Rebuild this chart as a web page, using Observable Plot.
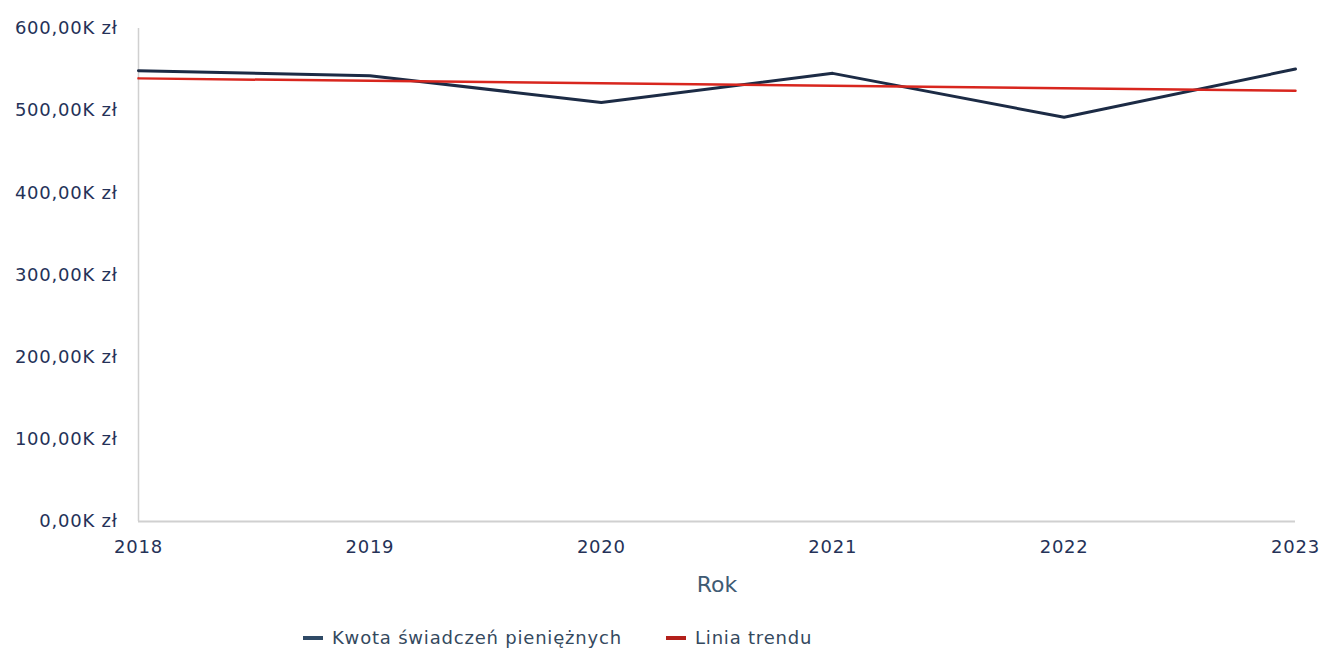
<!DOCTYPE html>
<html>
<head>
<meta charset="utf-8">
<script src="https://cdn.jsdelivr.net/npm/d3@7"></script>
<script src="https://cdn.jsdelivr.net/npm/@observablehq/plot@0.6"></script>
<style>
  html, body { margin: 0; padding: 0; background: #fff; }
  #chart { width: 1320px; }
  .legend { position: relative; height: 40px; font-family: "DejaVu Sans", sans-serif; font-size: 18px; letter-spacing: 0.8px; color: #34495e; }
  .legend .item { position: absolute; top: 15px; display: flex; align-items: center; }
  .legend .sw { width: 20px; height: 4px; margin-right: 9px; }
  #chart svg g[aria-label="y-axis tick label"] text,
  #chart svg g[aria-label="x-axis tick label"] text { letter-spacing: 0.75px; }
</style>
</head>
<body>
<div id="chart"></div>
<script>
const years = [2018, 2019, 2020, 2021, 2022, 2023];
const amounts = [548700, 542600, 510000, 545400, 491900, 550700];
const trendYears = [2018, 2023];
const trendValues = [539300, 524300];
const yTicks = [0, 100000, 200000, 300000, 400000, 500000, 600000];
const yTickLabels = ["0,00K zł", "100,00K zł", "200,00K zł", "300,00K zł", "400,00K zł", "500,00K zł", "600,00K zł"];
const xTickLabels = ["2018", "2019", "2020", "2021", "2022", "2023"];
const seriesNames = ["Kwota świadczeń pieniężnych", "Linia trendu"];
const seriesColors = ["#1c2b45", "#d8261e"];
const legendColors = ["#2f4a66", "#b3201b"];

const series = years.map((y, i) => ({year: y, value: amounts[i]}));
const trend = trendYears.map((y, i) => ({year: y, value: trendValues[i]}));

const font = "DejaVu Sans, sans-serif";
const chart = Plot.plot({
  width: 1320,
  height: 612,
  marginLeft: 138,
  marginRight: 25,
  marginTop: 28,
  marginBottom: 91,
  style: {fontFamily: font, fontSize: "18px", background: "#fff"},
  x: {domain: [2018, 2023]},
  y: {domain: [0, 600000]},
  marks: [
    Plot.ruleY([0], {stroke: "#d0d0d0", strokeWidth: 2}),
    Plot.ruleX([2018], {stroke: "#d0d0d0", strokeWidth: 1.5}),
    Plot.axisY({ticks: yTicks, tickFormat: d => yTickLabels[yTicks.indexOf(d)], tickSize: 0, tickPadding: 21, label: null, fill: "#253258", fontSize: 18}),
    Plot.axisX({ticks: years, tickFormat: d => xTickLabels[years.indexOf(d)], tickSize: 0, tickPadding: 19, label: null, fill: "#253258", fontSize: 18}),
    Plot.text(["Rok"], {frameAnchor: "bottom", dy: 70, fill: "#3f5b73", fontSize: 22}),
    Plot.line(series, {x: "year", y: "value", stroke: seriesColors[0], strokeWidth: 3}),
    Plot.line(trend, {x: "year", y: "value", stroke: seriesColors[1], strokeWidth: 2.5})
  ]
});
document.getElementById("chart").appendChild(chart);

const legend = document.createElement("div");
legend.className = "legend";
const positions = [303, 666];
seriesNames.forEach((name, i) => {
  const item = document.createElement("div");
  item.className = "item";
  item.style.left = positions[i] + "px";
  const sw = document.createElement("span");
  sw.className = "sw";
  sw.style.background = legendColors[i];
  const t = document.createElement("span");
  t.textContent = name;
  item.appendChild(sw);
  item.appendChild(t);
  legend.appendChild(item);
});
document.body.appendChild(legend);
</script>
</body>
</html>
